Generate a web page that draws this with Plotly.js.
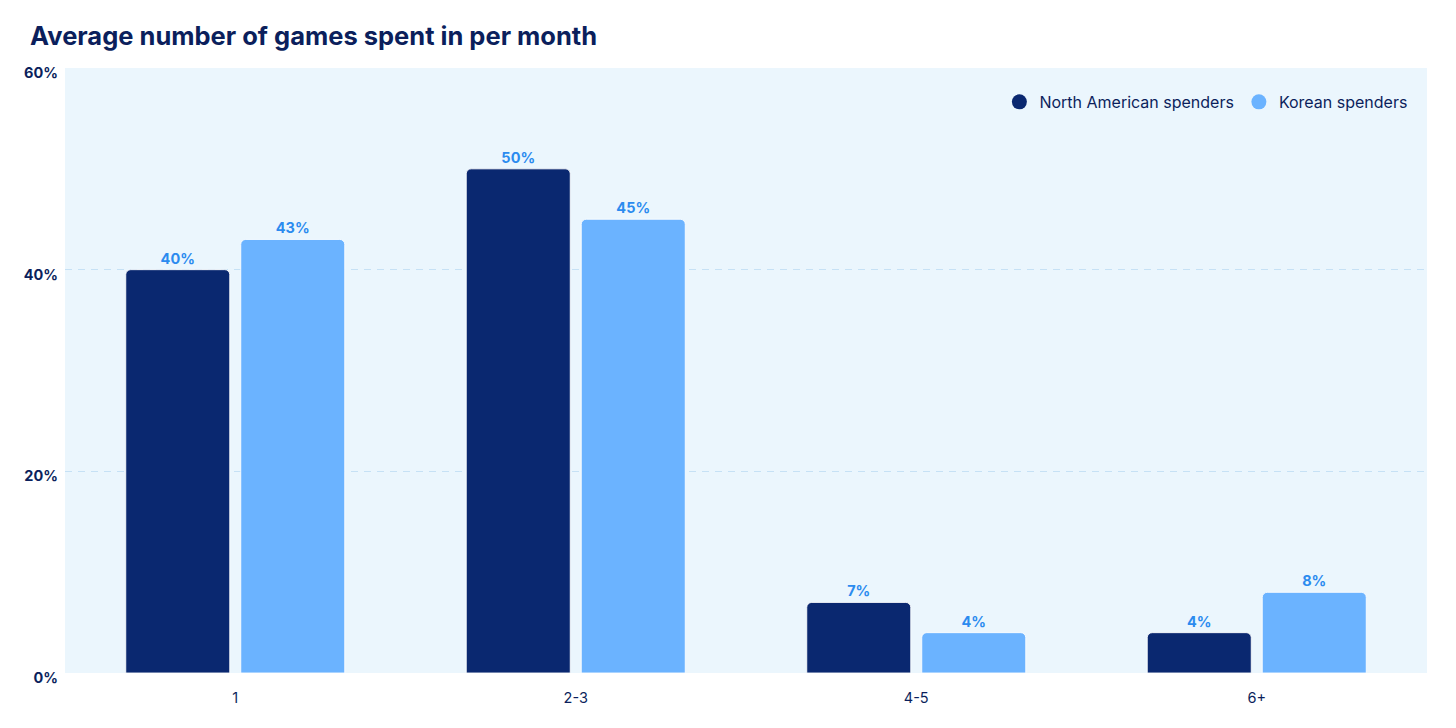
<!DOCTYPE html>
<html>
<head>
<meta charset="utf-8">
<script src="https://cdn.plot.ly/plotly-3.0.1.min.js"></script>
<style>html,body{margin:0;padding:0;background:#fff;}#chart{width:1456px;height:728px;}</style>
</head>
<body>
<div id="chart"></div>
<script>
const categories = ["1", "2-3", "4-5", "6+"];
const northAmerican = [40, 50, 7, 4];
const korean = [43, 45, 4, 8];
const seriesNames = ["North American spenders", "Korean spenders"];
const yTicks = [0, 20, 40, 60];
const yTickLabels = ["0%", "20%", "40%", "60%"];

const navy = "#0A2870";
const light = "#6BB3FF";
const labelBlue = "#2B8BEF";
const textNavy = "#0B1F5C";
const fontFam = "Inter, 'Noto Sans', sans-serif";

function barTrace(name, vals, color) {
  return {
    type: "bar", name: name, x: categories, y: vals,
    marker: {color: color, cornerradius: 5, line: {color: "rgba(255,255,255,0.85)", width: 1}},
    text: vals.map(v => v + "%"), texttemplate: "%{text}", textposition: "outside",
    textfont: {family: fontFam, size: 14.5, color: labelBlue, weight: 700},
    cliponaxis: false, showlegend: false, hoverinfo: "skip"
  };
}
function legendTrace(name, color) {
  return {
    type: "scatter", mode: "markers", name: name, x: [null], y: [null],
    marker: {color: color, size: 15, symbol: "circle"}, showlegend: true
  };
}

const data = [
  barTrace(seriesNames[0], northAmerican, navy),
  barTrace(seriesNames[1], korean, light),
  legendTrace(seriesNames[0], navy),
  legendTrace(seriesNames[1], light)
];

const layout = {
  width: 1456, height: 728,
  margin: {l: 65, r: 29, t: 68, b: 55},
  paper_bgcolor: "#ffffff",
  plot_bgcolor: "#EBF6FD",
  title: {text: "Average number of games spent in per month", x: 0, xref: "container", xanchor: "left", y: 1, yref: "container", yanchor: "top",
          pad: {t: 27, l: 30}, font: {family: fontFam, size: 25.5, color: textNavy, weight: 700}},
  barmode: "group", bargap: 0.3245, bargroupgap: 0.0957,
  xaxis: {type: "category", range: [-0.5, 3.5], showgrid: false, zeroline: false, showline: false, ticks: "",
          tickfont: {family: fontFam, size: 14.5, color: textNavy}, ticklabelstandoff: 14, fixedrange: true},
  yaxis: {range: [0, 60], tickvals: yTicks, ticktext: yTickLabels, showgrid: true, gridcolor: "#C6E1F5", griddash: "7px,6px", gridwidth: 1,
          zeroline: false, showline: false, ticks: "", ticklabelshift: 5, ticklabelstandoff: 6,
          tickfont: {family: fontFam, size: 14.5, color: textNavy, weight: 700}, fixedrange: true},
  legend: {orientation: "h", x: 0.99, xanchor: "right", y: 0.972, yanchor: "top", bgcolor: "rgba(0,0,0,0)",
           font: {family: fontFam, size: 16, color: textNavy}, itemwidth: 30, tracegroupgap: 0},
  showlegend: true
};

Plotly.newPlot("chart", data, layout, {displayModeBar: false, staticPlot: true});
</script>
</body>
</html>
